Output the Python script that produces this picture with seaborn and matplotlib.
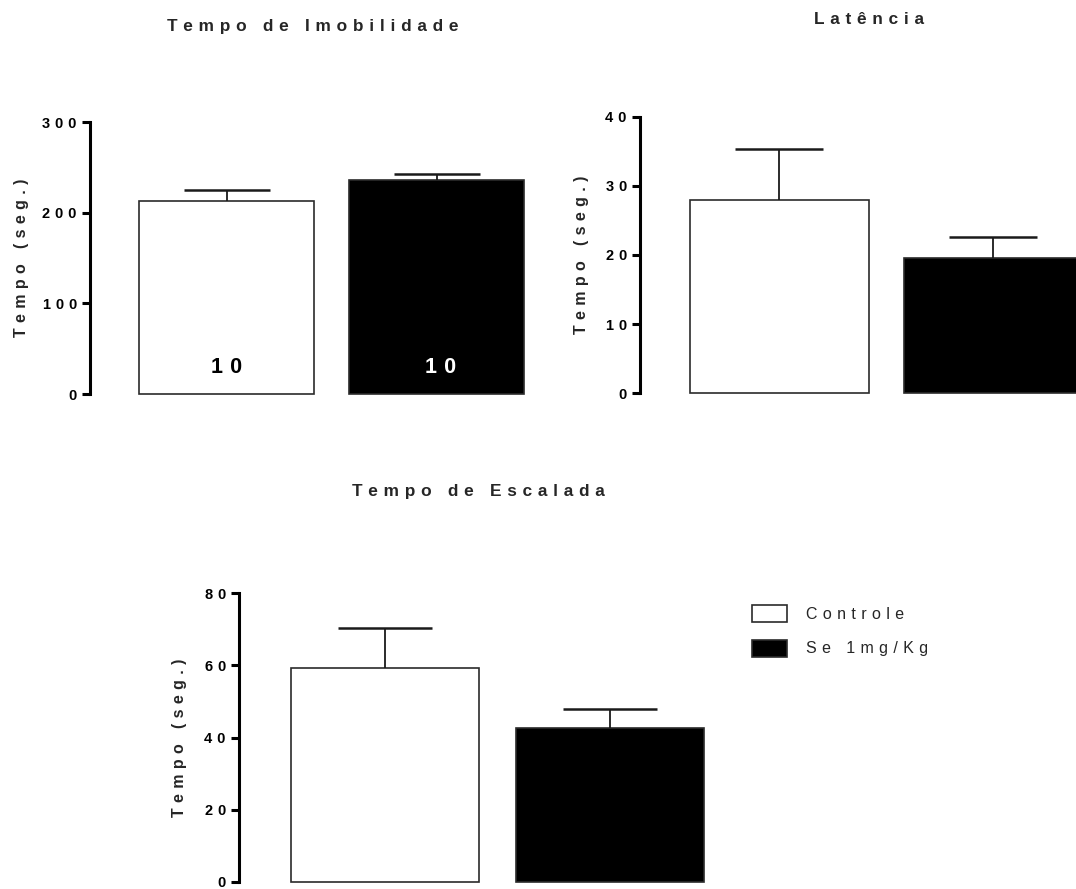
import numpy as np
import pandas as pd
import matplotlib
matplotlib.use("Agg")
import matplotlib.pyplot as plt
import seaborn as sns

# Grupos experimentais
grupos = ["Controle", "Se 1mg/Kg"]

# Tempo de imobilidade (média e EPM, segundos)
imob_media = [212.8, 236.0]
imob_epm = [12.5, 6.8]

# Latência (média e EPM, segundos)
lat_media = [28.0, 19.6]
lat_epm = [7.3, 3.0]

# Tempo de escalada (média e EPM, segundos)
esc_media = [59.3, 42.6]
esc_epm = [11.0, 5.4]

# Número de animais por grupo
n_animais = [10, 10]

imob_ticks = [0, 100, 200, 300]
lat_ticks = [0, 10, 20, 30, 40]
esc_ticks = [0, 20, 40, 60, 80]

sns.set_theme(style="ticks")
plt.rcParams["font.family"] = ["Liberation Sans", "DejaVu Sans"]
plt.rcParams["axes.edgecolor"] = "black"

W, H = 1076, 889
fig = plt.figure(figsize=(W / 100, H / 100), dpi=100)

TRACK = "\u2004"


def esp(texto):
    """Texto com espaçamento largo entre letras."""
    return TRACK.join(texto)


def eixo(left, top, bottom, step):
    width = 2.15 * step
    return fig.add_axes([left / W, 1 - bottom / H, width / W, (bottom - top) / H]), width


def painel(ax, width_px, label_px, medias, epm, ticks, cap, legenda=False):
    df = pd.DataFrame({"Grupo": grupos, "Tempo": medias})
    sns.barplot(data=df, x="Grupo", y="Tempo", hue="Grupo",
                palette=["white", "black"], edgecolor="#2b2b2b", linewidth=1.2,
                width=0.837, errorbar=None, legend=legenda, ax=ax)
    # barra de erro só para cima (média + EPM)
    _, caps, _ = ax.errorbar(np.arange(len(grupos)), medias,
                             yerr=[np.zeros(len(epm)), epm], fmt="none",
                             ecolor="#1a1a1a", elinewidth=1.3, capsize=cap,
                             capthick=1.8, zorder=3)
    caps[0].set_visible(False)
    ax.set_xlim(-0.65, 1.5)
    ax.set_ylim(ticks[0], ticks[-1])
    ax.set_yticks(ticks)
    ax.set_yticklabels([esp(str(t)) for t in ticks], fontsize=10.5,
                       fontweight="bold")
    ax.set_xticks([])
    ax.set_xlabel("")
    ax.set_ylabel(esp("Tempo (seg.)"), fontsize=11.5, fontweight="bold")
    ax.yaxis.set_label_coords(label_px / width_px, 0.5)
    sns.despine(ax=ax, bottom=True)
    ax.spines["left"].set_linewidth(2.2)
    ax.tick_params(axis="y", width=2.2, length=6, pad=3.5, colors="black")
    ax.set_facecolor("none")
    for p in ax.patches:
        p.set_clip_on(False)


# Painel: tempo de imobilidade
ax1, w1 = eixo(90, 122, 394, 210)
painel(ax1, w1, -61, imob_media, imob_epm, imob_ticks, 31.3)
for i, n in enumerate(n_animais):
    ax1.text(i + 0.02 * i, 29, esp(str(n)), ha="center", va="center",
             fontsize=15.5, fontweight="bold",
             color="black" if i == 0 else "white")

# Painel: latência
ax2, w2 = eixo(640, 116.7, 393.3, 214)
painel(ax2, w2, -51, lat_media, lat_epm, lat_ticks, 32)

# Painel: tempo de escalada
ax3, w3 = eixo(239, 593.3, 881.7, 225)
painel(ax3, w3, -52, esc_media, esc_epm, esc_ticks, 33.8, legenda=True)

leg = ax3.get_legend()
handles = leg.legend_handles
labels = [t.get_text() for t in leg.get_texts()]
leg.remove()
for h in handles:
    h.set_edgecolor("#2b2b2b")
    h.set_linewidth(1.2)
fig.legend(handles, [esp(l) for l in labels], loc="upper left",
           bbox_to_anchor=(752 / W, 1 - 605 / H), frameon=False,
           fontsize=11.5, handlelength=2.2, handleheight=1.26,
           labelspacing=1.1, handletextpad=1.2, borderpad=0, borderaxespad=0)

# Títulos
fig.text(313 / W, 1 - 27 / H, esp("Tempo de Imobilidade"), ha="center",
         va="center", fontsize=12.4, fontweight="bold")
fig.text(869 / W, 1 - 20 / H, esp("Latência"), ha="center", va="center",
         fontsize=12.4, fontweight="bold")
fig.text(478 / W, 1 - 492 / H, esp("Tempo de Escalada"), ha="center",
         va="center", fontsize=12.4, fontweight="bold")

fig.savefig("out.png", dpi=100, facecolor="white")
